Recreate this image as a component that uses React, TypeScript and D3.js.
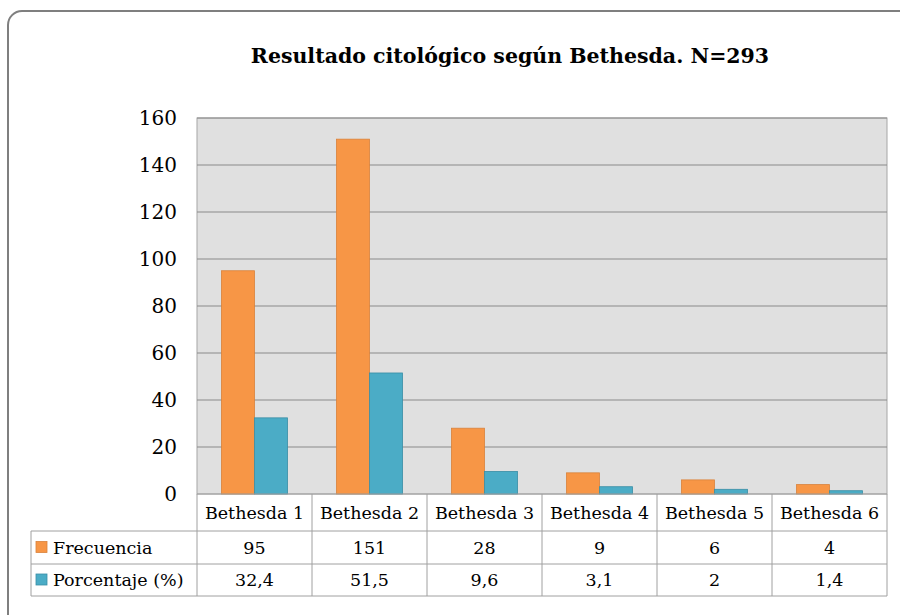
import { useEffect, useRef } from 'react';
import * as d3 from 'd3';

const categories = ['Bethesda 1', 'Bethesda 2', 'Bethesda 3', 'Bethesda 4', 'Bethesda 5', 'Bethesda 6'];
const frecuencia = [95, 151, 28, 9, 6, 4];
const porcentaje = [32.4, 51.5, 9.6, 3.1, 2, 1.4];
const seriesNames = ['Frecuencia', 'Porcentaje (%)'];
const seriesColors = ['#F79646', '#4BACC6'];
const seriesStroke = ['#D9823B', '#3A8EA6'];
const yTicks = [0, 20, 40, 60, 80, 100, 120, 140, 160];

const FONT = "'DejaVu Serif', 'Liberation Serif', serif";
const fmt = (v: number) => String(v).replace('.', ',');

export default function App() {
  const svgRef = useRef<SVGSVGElement>(null);

  useEffect(() => {
    if (!svgRef.current) return;
    const svg = d3.select(svgRef.current);
    svg.selectAll('*').remove();

    const width = 900;
    const height = 615;
    const plot = { left: 197, right: 887, top: 118, bottom: 494 };
    const tableLeft = 31;
    const rowH = [37, 33, 32];

    // marco
    svg.append('rect')
      .attr('x', 8).attr('y', 11)
      .attr('width', width + 20).attr('height', height + 20)
      .attr('rx', 14)
      .attr('fill', '#fff')
      .attr('stroke', '#7f7f7f')
      .attr('stroke-width', 2);

    svg.append('text')
      .attr('x', 510).attr('y', 63)
      .attr('text-anchor', 'middle')
      .style('font-family', FONT)
      .style('font-weight', 'bold')
      .style('font-size', '20.5px')
      .text('Resultado citológico según Bethesda. N=293');

    const x = d3.scaleBand<string>()
      .domain(categories)
      .range([plot.left, plot.right]);

    const xInner = d3.scaleBand<number>()
      .domain([0, 1])
      .range([0, x.bandwidth()])
      .paddingOuter(0.74);

    const y = d3.scaleLinear().domain([0, 160]).range([plot.bottom, plot.top]);

    // fondo
    svg.append('rect')
      .attr('x', plot.left).attr('y', plot.top)
      .attr('width', plot.right - plot.left)
      .attr('height', plot.bottom - plot.top)
      .attr('fill', '#E0E0E0')
      .attr('stroke', '#a6a6a6');

    // rejilla
    svg.append('g')
      .selectAll('line')
      .data(yTicks.slice(1))
      .enter()
      .append('line')
      .attr('x1', plot.left).attr('x2', plot.right)
      .attr('y1', (d) => y(d)).attr('y2', (d) => y(d))
      .attr('stroke', '#8a8a8a')
      .attr('stroke-width', 1);

    // Eje Y
    svg.append('g')
      .selectAll('text')
      .data(yTicks)
      .enter()
      .append('text')
      .attr('x', plot.left - 20)
      .attr('y', (d) => y(d) + 7)
      .attr('text-anchor', 'end')
      .style('font-family', FONT)
      .style('font-size', '20px')
      .text((d) => d);

    // barras
    const series = [frecuencia, porcentaje];
    series.forEach((vals, si) => {
      svg.append('g')
        .selectAll('rect')
        .data(vals)
        .enter()
        .append('rect')
        .attr('x', (_, i) => (x(categories[i]) ?? 0) + (xInner(si) ?? 0))
        .attr('y', (d) => y(d))
        .attr('width', xInner.bandwidth())
        .attr('height', (d) => y(0) - y(d))
        .attr('fill', seriesColors[si])
        .attr('stroke', seriesStroke[si])
        .attr('stroke-width', 0.8);
    });

    // tabla
    const t = svg.append('g');
    const r0 = plot.bottom;
    const r1 = r0 + rowH[0];
    const r2 = r1 + rowH[1];
    const r3 = r2 + rowH[2];
    const lineColor = '#a0a0a0';

    t.append('line').attr('x1', plot.left).attr('x2', plot.right).attr('y1', r0).attr('y2', r0)
      .attr('stroke', lineColor);
    [r1, r2, r3].forEach((yy) => {
      t.append('line').attr('x1', tableLeft).attr('x2', plot.right).attr('y1', yy).attr('y2', yy)
        .attr('stroke', lineColor);
    });
    t.append('line').attr('x1', tableLeft).attr('x2', tableLeft).attr('y1', r1).attr('y2', r3)
      .attr('stroke', lineColor);
    const bounds = [...categories.map((c) => x(c) ?? 0), plot.right];
    bounds.forEach((bx) => {
      t.append('line').attr('x1', bx).attr('x2', bx).attr('y1', r0).attr('y2', r3)
        .attr('stroke', lineColor);
    });

    // encabezados
    t.selectAll('.cat')
      .data(categories)
      .enter()
      .append('text')
      .attr('x', (d) => (x(d) ?? 0) + x.bandwidth() / 2)
      .attr('y', r0 + 25)
      .attr('text-anchor', 'middle')
      .style('font-family', FONT)
      .style('font-size', '17.5px')
      .text((d) => d);

    series.forEach((vals, si) => {
      const rowTop = si === 0 ? r1 : r2;
      const rh = si === 0 ? rowH[1] : rowH[2];
      t.append('rect')
        .attr('x', tableLeft + 5).attr('y', rowTop + rh / 2 - 6)
        .attr('width', 11).attr('height', 11)
        .attr('fill', seriesColors[si])
        .attr('stroke', seriesStroke[si])
        .attr('stroke-width', 0.8);
      t.append('text')
        .attr('x', tableLeft + 22)
        .attr('y', rowTop + rh / 2 + 6)
        .style('font-family', FONT)
        .style('font-size', '17.5px')
        .text(seriesNames[si]);
      t.append('g')
        .selectAll('text')
        .data(vals)
        .enter()
        .append('text')
        .attr('x', (_, i) => (x(categories[i]) ?? 0) + x.bandwidth() / 2)
        .attr('y', rowTop + rh / 2 + 6)
        .attr('text-anchor', 'middle')
        .style('font-family', FONT)
        .style('font-size', '17.5px')
        .text((d) => fmt(d));
    });
  }, []);

  return (
    <div style={{ position: 'fixed', left: 0, top: 0, width: 900, height: 615, overflow: 'hidden', background: '#fff' }}>
      <svg ref={svgRef} width={900} height={615}></svg>
    </div>
  );
}
